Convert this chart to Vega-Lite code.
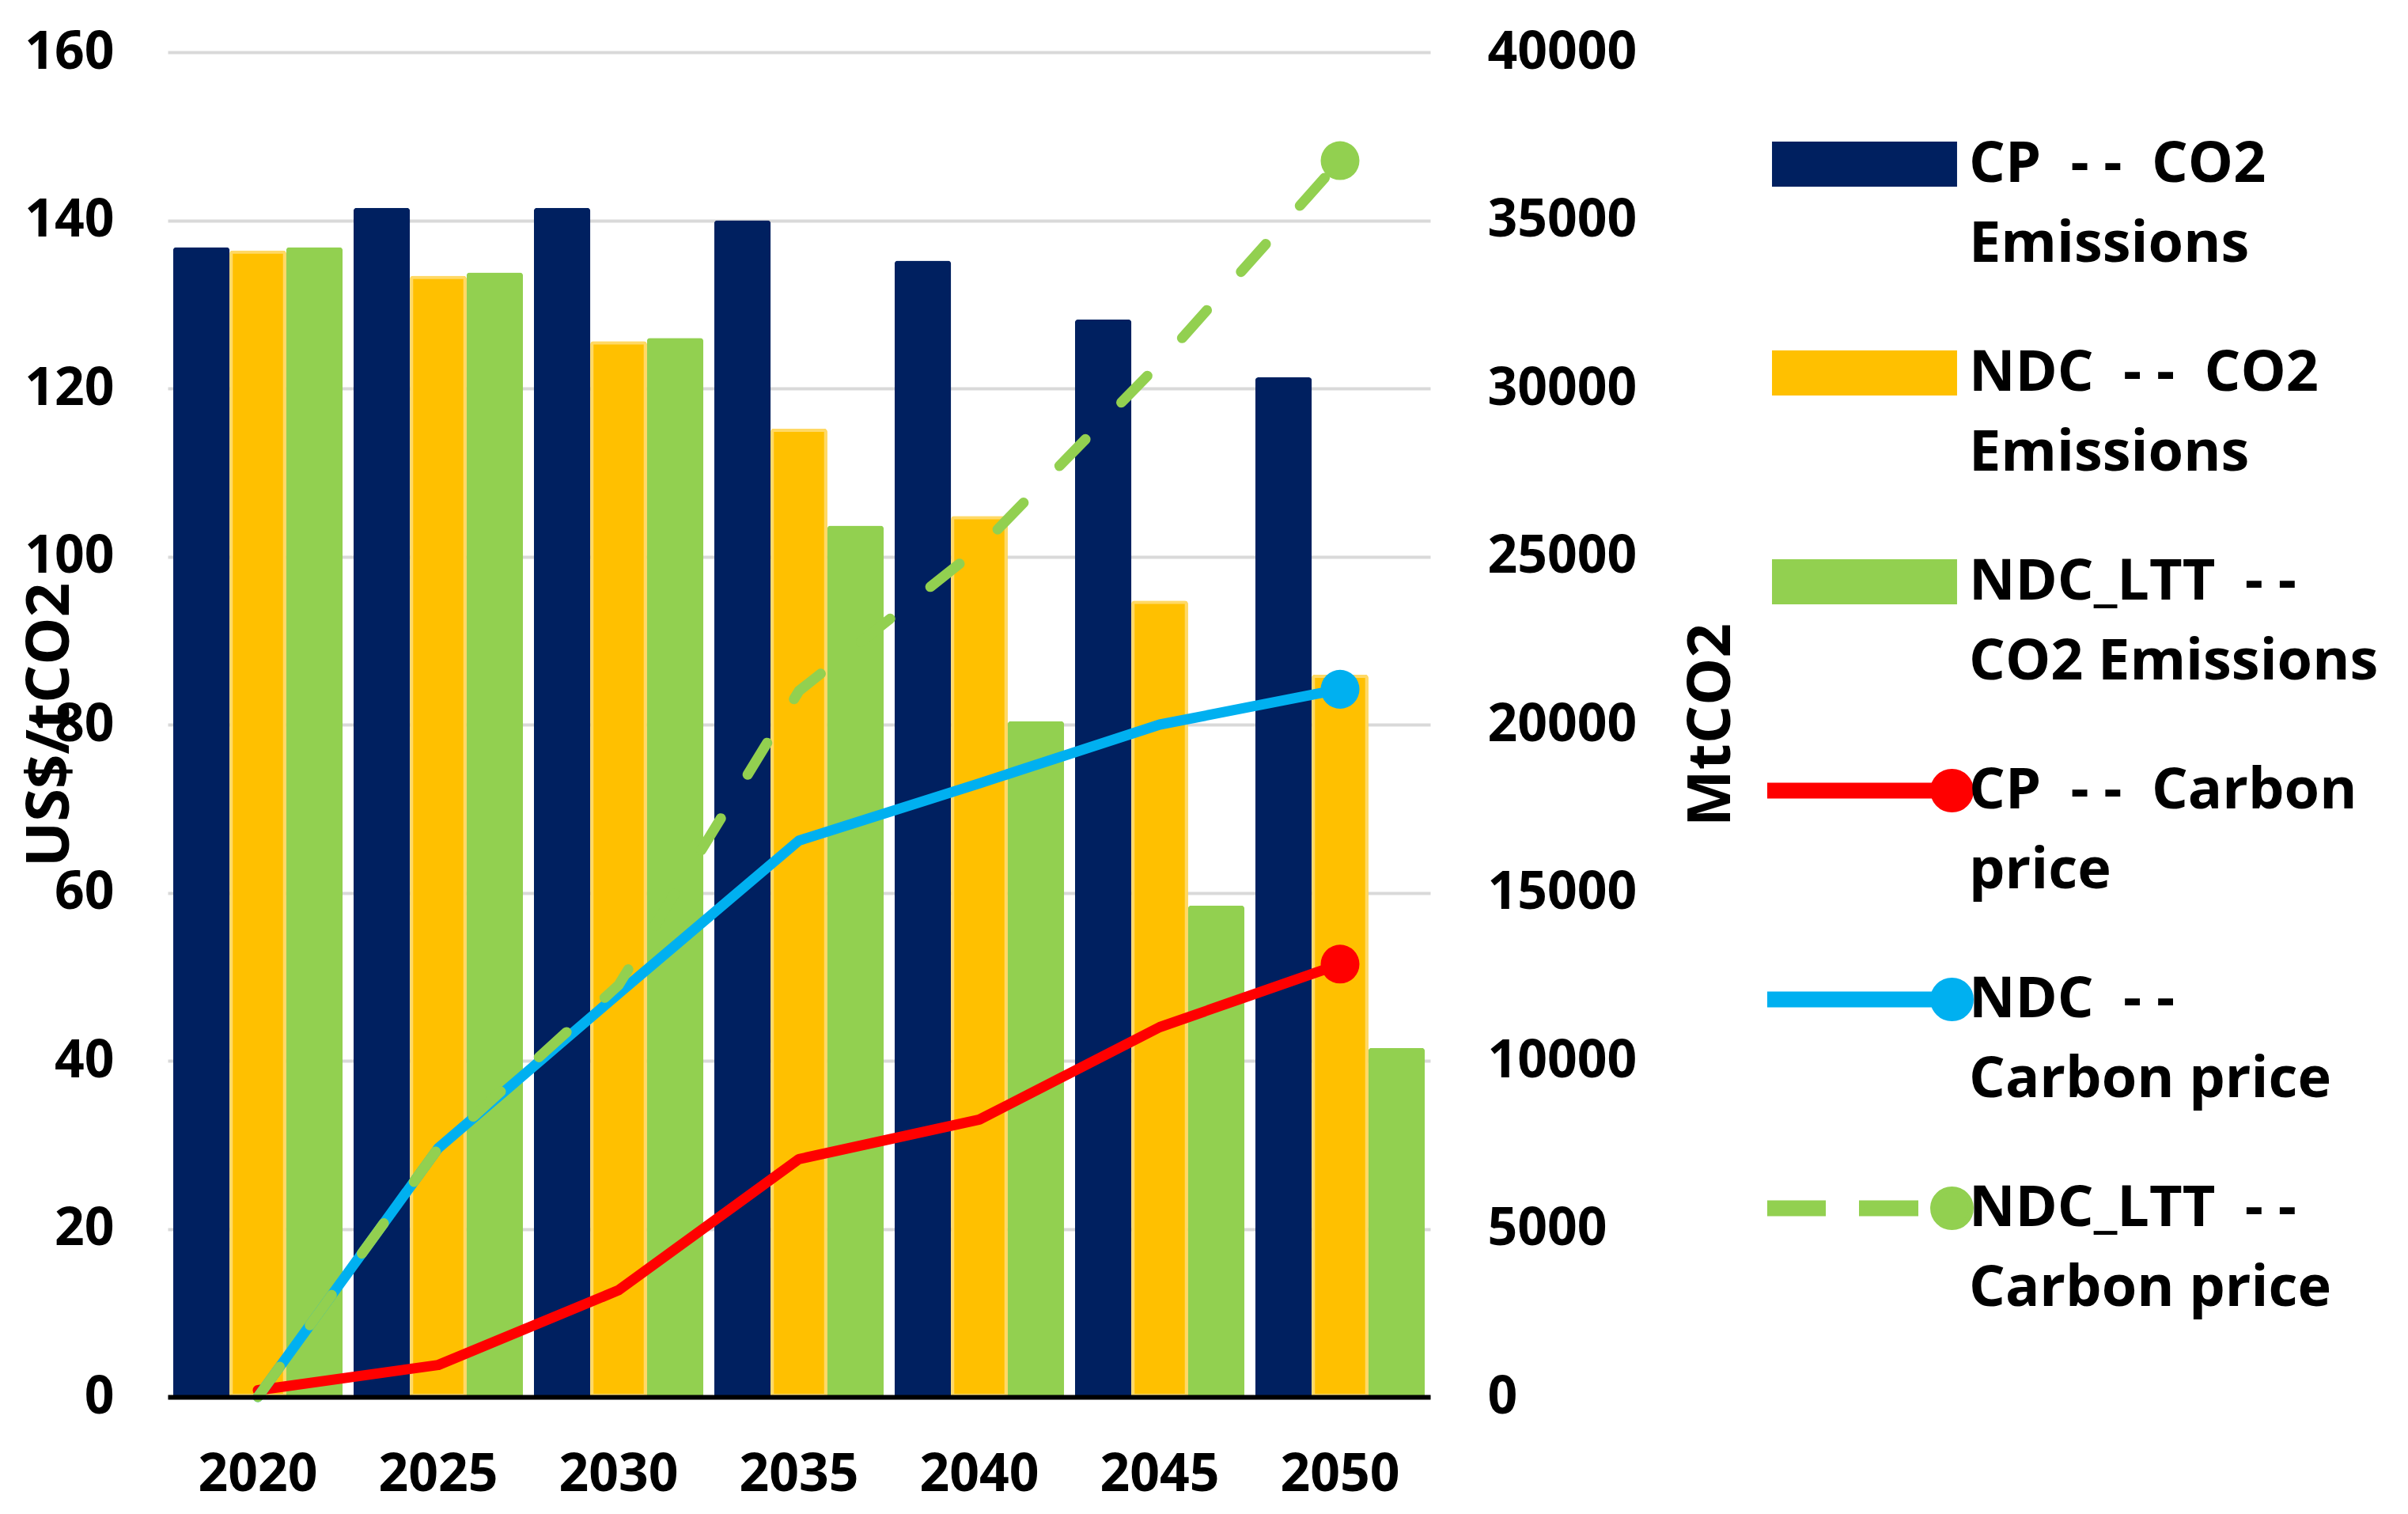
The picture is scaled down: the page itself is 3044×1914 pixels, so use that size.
{
  "$schema": "https://vega.github.io/schema/vega-lite/v6.json",
  "width": 1596,
  "height": 1700,
  "autosize": {"type": "none"},
  "padding": {"left": 212, "top": 66, "right": 1236, "bottom": 148},
  "background": "white",
  "datasets": {
    "emissions": [
      {"year": "2020", "group": "CP", "series": "CP - - CO2 Emissions", "value": 34200},
      {"year": "2020", "group": "NDC", "series": "NDC - - CO2 Emissions", "value": 34100},
      {"year": "2020", "group": "NDC_LTT", "series": "NDC_LTT - - CO2 Emissions", "value": 34200},
      {"year": "2025", "group": "CP", "series": "CP - - CO2 Emissions", "value": 35370},
      {"year": "2025", "group": "NDC", "series": "NDC - - CO2 Emissions", "value": 33350},
      {"year": "2025", "group": "NDC_LTT", "series": "NDC_LTT - - CO2 Emissions", "value": 33450},
      {"year": "2030", "group": "CP", "series": "CP - - CO2 Emissions", "value": 35370},
      {"year": "2030", "group": "NDC", "series": "NDC - - CO2 Emissions", "value": 31400},
      {"year": "2030", "group": "NDC_LTT", "series": "NDC_LTT - - CO2 Emissions", "value": 31500},
      {"year": "2035", "group": "CP", "series": "CP - - CO2 Emissions", "value": 35000},
      {"year": "2035", "group": "NDC", "series": "NDC - - CO2 Emissions", "value": 28800},
      {"year": "2035", "group": "NDC_LTT", "series": "NDC_LTT - - CO2 Emissions", "value": 25920},
      {"year": "2040", "group": "CP", "series": "CP - - CO2 Emissions", "value": 33800},
      {"year": "2040", "group": "NDC", "series": "NDC - - CO2 Emissions", "value": 26200},
      {"year": "2040", "group": "NDC_LTT", "series": "NDC_LTT - - CO2 Emissions", "value": 20100},
      {"year": "2045", "group": "CP", "series": "CP - - CO2 Emissions", "value": 32050},
      {"year": "2045", "group": "NDC", "series": "NDC - - CO2 Emissions", "value": 23680},
      {"year": "2045", "group": "NDC_LTT", "series": "NDC_LTT - - CO2 Emissions", "value": 14620},
      {"year": "2050", "group": "CP", "series": "CP - - CO2 Emissions", "value": 30330},
      {"year": "2050", "group": "NDC", "series": "NDC - - CO2 Emissions", "value": 21480},
      {"year": "2050", "group": "NDC_LTT", "series": "NDC_LTT - - CO2 Emissions", "value": 10380}
    ],
    "price": [
      {"year": "2020", "group": "CP", "series": "CP - - Carbon price", "value": 0.8},
      {"year": "2025", "group": "CP", "series": "CP - - Carbon price", "value": 3.8},
      {"year": "2030", "group": "CP", "series": "CP - - Carbon price", "value": 12.7},
      {"year": "2035", "group": "CP", "series": "CP - - Carbon price", "value": 28.3},
      {"year": "2040", "group": "CP", "series": "CP - - Carbon price", "value": 33.0},
      {"year": "2045", "group": "CP", "series": "CP - - Carbon price", "value": 44.0},
      {"year": "2050", "group": "CP", "series": "CP - - Carbon price", "value": 51.5},
      {"year": "2020", "group": "NDC", "series": "NDC - - Carbon price", "value": 0},
      {"year": "2025", "group": "NDC", "series": "NDC - - Carbon price", "value": 29.6},
      {"year": "2030", "group": "NDC", "series": "NDC - - Carbon price", "value": 48.0},
      {"year": "2035", "group": "NDC", "series": "NDC - - Carbon price", "value": 66.2},
      {"year": "2040", "group": "NDC", "series": "NDC - - Carbon price", "value": 73.0},
      {"year": "2045", "group": "NDC", "series": "NDC - - Carbon price", "value": 80.0},
      {"year": "2050", "group": "NDC", "series": "NDC - - Carbon price", "value": 84.2},
      {"year": "2020", "group": "NDC_LTT", "series": "NDC_LTT - - Carbon price", "value": 0},
      {"year": "2025", "group": "NDC_LTT", "series": "NDC_LTT - - Carbon price", "value": 29.6},
      {"year": "2030", "group": "NDC_LTT", "series": "NDC_LTT - - Carbon price", "value": 49.0},
      {"year": "2035", "group": "NDC_LTT", "series": "NDC_LTT - - Carbon price", "value": 84.0},
      {"year": "2040", "group": "NDC_LTT", "series": "NDC_LTT - - Carbon price", "value": 101.0},
      {"year": "2045", "group": "NDC_LTT", "series": "NDC_LTT - - Carbon price", "value": 123.0},
      {"year": "2050", "group": "NDC_LTT", "series": "NDC_LTT - - Carbon price", "value": 147.1}
    ]
  },
  "encoding": {
    "x": {
      "field": "year",
      "type": "ordinal",
      "scale": {"type": "band", "paddingInner": 0.06, "paddingOuter": 0.03},
      "axis": {
        "title": null,
        "labelAngle": 0,
        "domain": true,
        "domainColor": "black",
        "domainWidth": 6,
        "labelPadding": 66,
        "labelFontSize": 66,
        "zindex": 1
      }
    },
    "color": {
      "field": "series",
      "type": "nominal",
      "scale": {
        "domain": [
          "CP - - CO2 Emissions",
          "NDC - - CO2 Emissions",
          "NDC_LTT - - CO2 Emissions",
          "CP - - Carbon price",
          "NDC - - Carbon price",
          "NDC_LTT - - Carbon price"
        ],
        "range": ["#002060", "#FFC000", "#92D050", "#FF0000", "#00B0F0", "#92D050"]
      },
      "legend": {
        "title": null,
        "orient": "none",
        "legendX": 2022,
        "legendY": 15,
        "symbolSize": 60516,
        "symbolStrokeWidth": 0,
        "labelOffset": 2,
        "labelLimit": 900,
        "labelFontSize": 72,
        "labelFont": "Open Sans",
        "labelFontWeight": "bold",
        "labelColor": "black",
        "rowPadding": 0,
        "labelExpr": "datum.label === 'CP - - CO2 Emissions' ? ['CP\u00a0 - -\u00a0 CO2', 'Emissions'] : datum.label === 'NDC - - CO2 Emissions' ? ['NDC\u00a0 - -\u00a0 CO2', 'Emissions'] : datum.label === 'NDC_LTT - - CO2 Emissions' ? ['NDC_LTT\u00a0 - -', 'CO2 Emissions'] : datum.label === 'CP - - Carbon price' ? ['CP\u00a0 - -\u00a0 Carbon', 'price'] : datum.label === 'NDC - - Carbon price' ? ['NDC\u00a0 - -', 'Carbon price'] : ['NDC_LTT\u00a0 - -', 'Carbon price']",
        "encode": {
          "symbols": {
            "update": {
              "shape": {"signal": "indexof(datum.value, 'Carbon') < 0 ? 'M-0.951,-0.203H0.894V0.203H-0.951Z' : (indexof(datum.value, 'NDC_LTT') === 0 ? 'M-1,-0.052H-0.455V0.052H-1Z M-0.057,-0.052H0.496V0.052H-0.057Z M0.675,0A0.195,0.195 0 1,1 1.065,0A0.195,0.195 0 1,1 0.675,0Z' : 'M-1,-0.052H0.87V0.052H-1Z M0.675,0A0.195,0.195 0 1,1 1.065,0A0.195,0.195 0 1,1 0.675,0Z')"},
              "fill": {"scale": "color", "field": "value"},
              "stroke": {"signal": "datum.value === 'NDC - - CO2 Emissions' ? '#FFD966' : null"},
              "strokeWidth": {"value": 7},
              "opacity": {"value": 1},
              "size": {"value": 60516}
            }
          },
          "labels": {
            "update": {
              "lineHeight": {"value": 101}
            }
          }
        }
      }
    }
  },
  "layer": [
    {
      "data": {"name": "emissions"},
      "mark": {"type": "bar", "strokeWidth": 8, "cornerRadiusTopLeft": 4, "cornerRadiusTopRight": 4},
      "encoding": {
        "xOffset": {
          "field": "series",
          "type": "nominal",
          "scale": {
            "domain": ["CP - - CO2 Emissions", "NDC - - CO2 Emissions", "NDC_LTT - - CO2 Emissions"],
            "paddingInner": 0,
            "paddingOuter": 0
          }
        },
        "y": {
          "field": "value",
          "type": "quantitative",
          "scale": {"domain": [0, 40000]},
          "axis": {
            "orient": "right",
            "title": "MtCO2",
            "values": [0, 5000, 10000, 15000, 20000, 25000, 30000, 35000, 40000],
            "format": "d",
            "grid": false,
            "labelPadding": 72,
            "labelFontSize": 66,
            "labelLimit": 400,
            "titleX": 355,
            "titleY": 850,
            "titleAngle": -90,
            "titleAlign": "center",
            "titleBaseline": "middle",
            "titleFontSize": 76
          }
        },
        "stroke": {
          "condition": {"test": "datum.group === 'NDC'", "value": "#FFD966"},
          "value": null
        }
      }
    },
    {
      "data": {"name": "price"},
      "encoding": {
        "y": {
          "field": "value",
          "type": "quantitative",
          "scale": {"domain": [0, 160]},
          "axis": {
            "orient": "left",
            "title": "US$/tCO2",
            "values": [0, 20, 40, 60, 80, 100, 120, 140, 160],
            "grid": true,
            "gridColor": "#D9D9D9",
            "gridWidth": 4,
            "labelPadding": 68,
            "labelFontSize": 66,
            "titleX": -149,
            "titleY": 850,
            "titleAngle": -90,
            "titleAlign": "center",
            "titleBaseline": "middle",
            "titleFontSize": 76
          }
        }
      },
      "layer": [
        {
          "transform": [{"filter": "datum.group !== 'NDC_LTT'"}],
          "mark": {"type": "line", "strokeWidth": 13, "strokeJoin": "round", "strokeCap": "round"},
          "encoding": {}
        },
        {
          "transform": [{"filter": "datum.group === 'NDC_LTT'"}],
          "mark": {"type": "line", "strokeWidth": 13, "strokeDash": [47, 65], "strokeCap": "round"},
          "encoding": {}
        },
        {
          "transform": [{"filter": "datum.year === '2050'"}],
          "mark": {"type": "point", "filled": true, "size": 2400, "opacity": 1},
          "encoding": {}
        }
      ]
    }
  ],
  "resolve": {"scale": {"y": "independent"}},
  "config": {
    "font": "Open Sans",
    "view": {"stroke": null},
    "axis": {
      "labelFont": "Open Sans",
      "titleFont": "Open Sans",
      "labelFontWeight": "bold",
      "titleFontWeight": "bold",
      "labelColor": "black",
      "titleColor": "black",
      "ticks": false,
      "domain": false,
      "grid": false
    }
  }
}
